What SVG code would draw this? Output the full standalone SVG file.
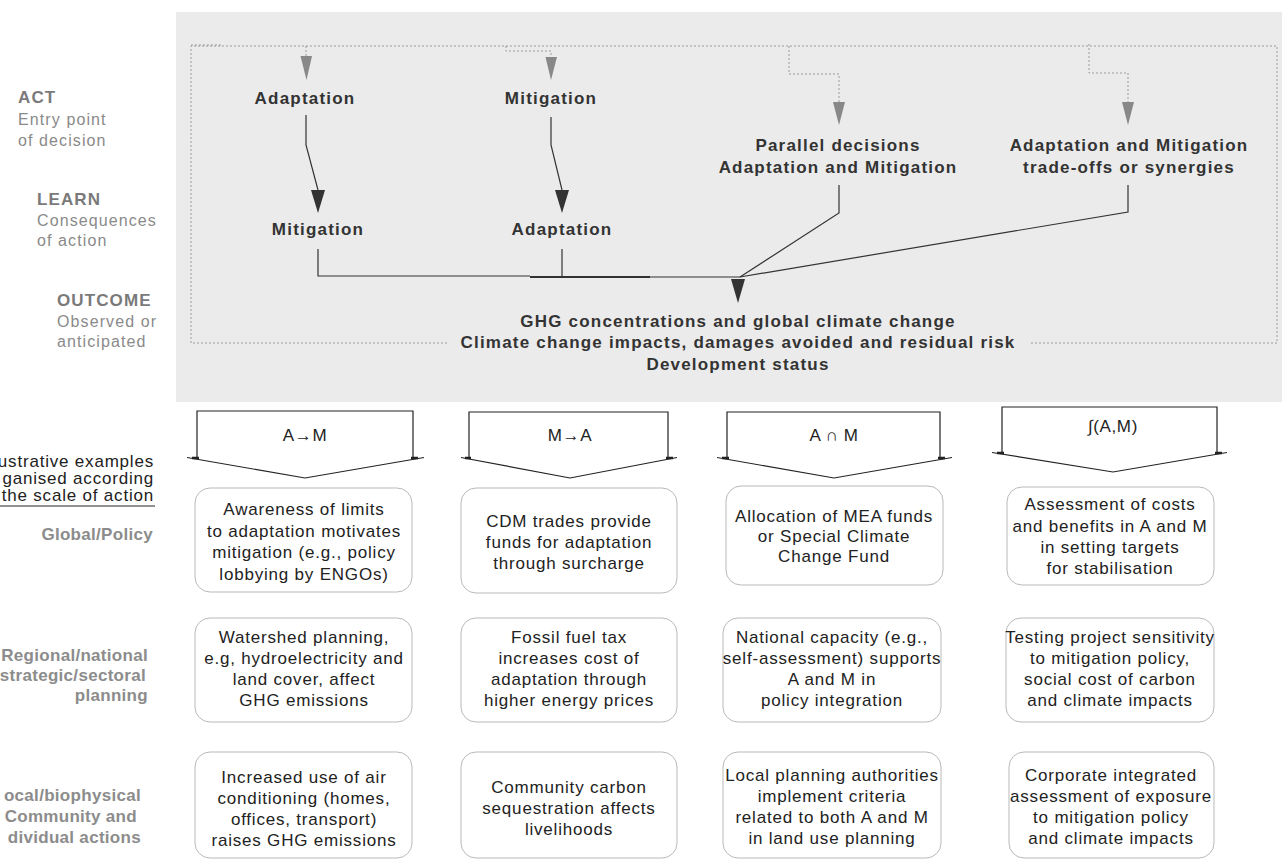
<svg xmlns="http://www.w3.org/2000/svg" width="1282" height="859" viewBox="0 0 1282 859">
<style>
text{font-family:"Liberation Sans",Arial,sans-serif}
.title{font-size:17px;font-weight:bold;fill:#333;letter-spacing:1.2px;text-anchor:middle}
.box{fill:#fff;stroke:#b9b9b9;stroke-width:1}
.bt{font-size:17px;fill:#222;letter-spacing:0.8px;text-anchor:middle}
.lh{font-size:17px;font-weight:bold;fill:#7a7a7a;letter-spacing:1.1px}
.ls{font-size:16px;fill:#8a8a8a;letter-spacing:1.1px}
.rl{font-size:17px;font-weight:bold;fill:#8c8c8c;letter-spacing:0.3px;text-anchor:end}
.il{font-size:17px;fill:#222;letter-spacing:0.8px;text-anchor:end}
.dot{fill:none;stroke:#9a9a9a;stroke-width:1;stroke-dasharray:2 2}
.ln{fill:none;stroke:#333;stroke-width:1.2}
.gh{fill:#888}
.dh{fill:#333}
.pent{fill:none;stroke:#222;stroke-width:1.2}
.tick{stroke:#222;stroke-width:2.5}
.pt{font-size:17px;fill:#222;letter-spacing:0.6px;text-anchor:middle}
</style>

<rect x="176" y="12" width="1106" height="390" fill="#ebebeb"/>

<g id="row-labels">
  <text class="lh" x="18" y="103">ACT</text>
  <text class="ls" x="18" y="125">Entry point</text>
  <text class="ls" x="18" y="146">of decision</text>
  <text class="lh" x="37" y="205">LEARN</text>
  <text class="ls" x="37" y="226">Consequences</text>
  <text class="ls" x="37" y="246">of action</text>
  <text class="lh" x="57" y="306">OUTCOME</text>
  <text class="ls" x="57" y="327">Observed or</text>
  <text class="ls" x="57" y="347">anticipated</text>
</g>

<g id="scale-labels">
  <text class="il" x="154" y="467">ustrative examples</text>
  <text class="il" x="154" y="484">ganised according</text>
  <text class="il" x="154" y="501">the scale of action</text>
  <line x1="0" y1="506" x2="155" y2="506" stroke="#222" stroke-width="1"/>
  <text class="rl" x="153" y="540">Global/Policy</text>
  <text class="rl" x="148" y="661">Regional/national</text>
  <text class="rl" x="146" y="681">strategic/sectoral</text>
  <text class="rl" x="148" y="701">planning</text>
  <text class="rl" x="141" y="801">ocal/biophysical</text>
  <text class="rl" x="137" y="822">Community and</text>
  <text class="rl" x="141" y="843">dividual actions</text>
</g>

<g id="connectors">
  <path class="dot" d="M447,343 H191 V46 H1277 V343 H1030"/>
  <path class="dot" d="M191,45 H222"/>
  <path class="dot" d="M306,46 V57"/>
  <path class="dot" d="M506,46 V51 H551 V57"/>
  <path class="dot" d="M789,46 V74 H839 V102"/>
  <path class="dot" d="M1089,44 V73 H1128 V102"/>
  <polygon class="gh" points="300.5,56 312,56 306.5,80"/>
  <polygon class="gh" points="545.5,57 557,57 551,80"/>
  <polygon class="gh" points="833,102 845,102 839,125"/>
  <polygon class="gh" points="1122,102 1134,102 1128,125"/>
  <path class="ln" d="M306,115 V145 L318,190"/>
  <path class="ln" d="M551,117 V145 L562,190"/>
  <polygon class="dh" points="311,190 325,190 318,213"/>
  <polygon class="dh" points="555,190 569,190 562,213"/>
  <path class="ln" d="M318,249 V276 H530"/>
  <path class="ln" d="M562,249 V277"/>
  <path d="M530,277 H650" stroke="#333" stroke-width="2"/>
  <path class="ln" d="M650,277 H740"/>
  <path class="ln" d="M839,185 V213 L740,277"/>
  <path class="ln" d="M1128,185 V212 L740,277"/>
  <polygon class="dh" points="731,279 745,279 738,303"/>
</g>

<g id="act-adaptation"><text class="title" x="305" y="104">Adaptation</text></g>
<g id="act-mitigation"><text class="title" x="551" y="104">Mitigation</text></g>
<g id="act-parallel">
  <text class="title" x="838" y="151">Parallel decisions</text>
  <text class="title" x="838" y="173">Adaptation and Mitigation</text>
</g>
<g id="act-tradeoffs">
  <text class="title" x="1129" y="151">Adaptation and Mitigation</text>
  <text class="title" x="1129" y="173">trade-offs or synergies</text>
</g>
<g id="learn-mitigation"><text class="title" x="318" y="235">Mitigation</text></g>
<g id="learn-adaptation"><text class="title" x="562" y="235">Adaptation</text></g>
<g id="outcome">
  <text class="title" x="738" y="327">GHG concentrations and global climate change</text>
  <text class="title" x="738" y="348">Climate change impacts, damages avoided and residual risk</text>
  <text class="title" x="738" y="370">Development status</text>
</g>

<g id="head-am">
  <path class="pent" d="M197,458 V411 H413 V458 M187,457.5 L305,478 L424,457.5"/>
  <path class="tick" d="M192,458 H199 M411,458 H418"/>
  <text class="pt" x="305" y="441">A→M</text>
</g>
<g id="head-ma">
  <path class="pent" d="M469,458 V412 H668 V458 M461,457.5 L570,478 L677,457.5"/>
  <path class="tick" d="M465,458 H471 M666,458 H673"/>
  <text class="pt" x="570" y="441">M→A</text>
</g>
<g id="head-aim">
  <path class="pent" d="M727,458 V412 H940 V458 M717,457.5 L834,478 L952,457.5"/>
  <path class="tick" d="M722,458 H729 M938,458 H945"/>
  <text class="pt" x="834" y="441">A ∩ M</text>
</g>
<g id="head-fam">
  <path class="pent" d="M1002,453 V407 H1217 V453 M992,452.5 L1113,472 L1227,452.5"/>
  <path class="tick" d="M997,453 H1004 M1215,453 H1222"/>
  <text class="pt" x="1113" y="432">∫(A,M)</text>
</g>

<g id="global-am">
  <rect class="box" x="195" y="488" width="217" height="104" rx="15"/>
  <text class="bt" x="304" y="515">Awareness of limits</text>
  <text class="bt" x="304" y="537">to adaptation motivates</text>
  <text class="bt" x="304" y="558">mitigation (e.g., policy</text>
  <text class="bt" x="304" y="580">lobbying by ENGOs)</text>
</g>
<g id="global-ma">
  <rect class="box" x="461" y="488" width="216" height="105" rx="15"/>
  <text class="bt" x="569" y="527">CDM trades provide</text>
  <text class="bt" x="569" y="548">funds for adaptation</text>
  <text class="bt" x="569" y="569">through surcharge</text>
</g>
<g id="global-aim">
  <rect class="box" x="726" y="486" width="217" height="99" rx="15"/>
  <text class="bt" x="834" y="522">Allocation of MEA funds</text>
  <text class="bt" x="834" y="542">or Special Climate</text>
  <text class="bt" x="834" y="562">Change Fund</text>
</g>
<g id="global-fam">
  <rect class="box" x="1007" y="487" width="207" height="98" rx="15"/>
  <text class="bt" x="1110" y="510">Assessment of costs</text>
  <text class="bt" x="1110" y="532">and benefits in A and M</text>
  <text class="bt" x="1110" y="553">in setting targets</text>
  <text class="bt" x="1110" y="574">for stabilisation</text>
</g>

<g id="regional-am">
  <rect class="box" x="195" y="618" width="217" height="104" rx="15"/>
  <text class="bt" x="304" y="643">Watershed planning,</text>
  <text class="bt" x="304" y="664">e.g,  hydroelectricity and</text>
  <text class="bt" x="304" y="685">land cover, affect</text>
  <text class="bt" x="304" y="706">GHG emissions</text>
</g>
<g id="regional-ma">
  <rect class="box" x="461" y="618" width="216" height="104" rx="15"/>
  <text class="bt" x="569" y="643">Fossil fuel tax</text>
  <text class="bt" x="569" y="664">increases cost of</text>
  <text class="bt" x="569" y="685">adaptation through</text>
  <text class="bt" x="569" y="706">higher energy prices</text>
</g>
<g id="regional-aim">
  <rect class="box" x="723" y="618" width="218" height="104" rx="15"/>
  <text class="bt" x="832" y="643">National capacity (e.g.,</text>
  <text class="bt" x="832" y="664">self-assessment) supports</text>
  <text class="bt" x="832" y="685">A and M in</text>
  <text class="bt" x="832" y="706">policy integration</text>
</g>
<g id="regional-fam">
  <rect class="box" x="1006" y="618" width="208" height="104" rx="15"/>
  <text class="bt" x="1110" y="643">Testing project sensitivity</text>
  <text class="bt" x="1110" y="664">to mitigation policy,</text>
  <text class="bt" x="1110" y="685">social cost of carbon</text>
  <text class="bt" x="1110" y="706">and climate impacts</text>
</g>

<g id="local-am">
  <rect class="box" x="195" y="752" width="217" height="106" rx="15"/>
  <text class="bt" x="304" y="783">Increased use of air</text>
  <text class="bt" x="304" y="804">conditioning (homes,</text>
  <text class="bt" x="304" y="825">offices, transport)</text>
  <text class="bt" x="304" y="846">raises GHG emissions</text>
</g>
<g id="local-ma">
  <rect class="box" x="461" y="752" width="216" height="106" rx="15"/>
  <text class="bt" x="569" y="793">Community carbon</text>
  <text class="bt" x="569" y="814">sequestration affects</text>
  <text class="bt" x="569" y="835">livelihoods</text>
</g>
<g id="local-aim">
  <rect class="box" x="723" y="752" width="218" height="106" rx="15"/>
  <text class="bt" x="832" y="781">Local planning authorities</text>
  <text class="bt" x="832" y="802">implement criteria</text>
  <text class="bt" x="832" y="823">related to both A and M</text>
  <text class="bt" x="832" y="844">in land use planning</text>
</g>
<g id="local-fam">
  <rect class="box" x="1009" y="752" width="205" height="106" rx="15"/>
  <text class="bt" x="1111" y="781">Corporate integrated</text>
  <text class="bt" x="1111" y="802">assessment of exposure</text>
  <text class="bt" x="1111" y="823">to mitigation policy</text>
  <text class="bt" x="1111" y="844">and climate impacts</text>
</g>
</svg>
